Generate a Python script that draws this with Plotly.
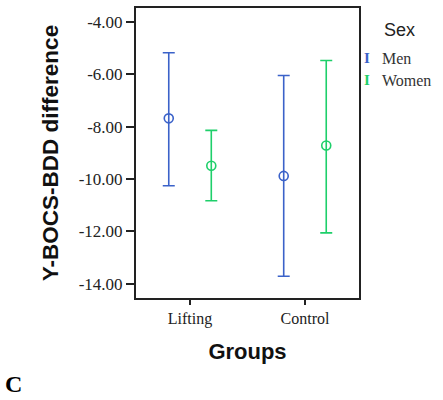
import plotly.graph_objects as go

# ---- data ----
groups = ["Lifting", "Control"]
sexes = ["Men", "Women"]
men_mean = [-7.68, -9.88]
men_upper = [-5.17, -6.04]
men_lower = [-10.26, -13.72]
women_mean = [-9.49, -8.72]
women_upper = [-8.14, -5.47]
women_lower = [-10.83, -12.06]
y_ticks = [-4, -6, -8, -10, -12, -14]
y_tick_labels = ["-4.00", "-6.00", "-8.00", "-10.00", "-12.00", "-14.00"]

# ---- style ----
BLUE = "#3b62c9"
GREEN = "#1ecf6a"
OFFSET = 0.185
W, H = 443, 400
ML, MR, MT, MB = 136, 84, 8, 102
PW, PH = W - ML - MR, H - MT - MB

def px(x):
    return (x - ML) / PW

def py(y):
    return (H - MB - y) / PH

series = [
    ("Men", men_mean, men_upper, men_lower, BLUE, -OFFSET),
    ("Women", women_mean, women_upper, women_lower, GREEN, OFFSET),
]

fig = go.Figure()
for name, mean, up, lo, col, off in series:
    xs = [i + off for i in range(len(groups))]
    fig.add_trace(go.Scatter(
        x=xs, y=mean, mode="markers", name=name, showlegend=False,
        marker=dict(symbol="circle-open", size=9, color=col, line=dict(width=1.6, color=col)),
        error_y=dict(type="data", symmetric=False,
                     array=[u - m for u, m in zip(up, mean)],
                     arrayminus=[m - l for m, l in zip(mean, lo)],
                     color=col, thickness=1.6, width=6),
    ))

serif = "Liberation Serif"
sans = "Liberation Sans"

fig.update_layout(
    width=W, height=H,
    margin=dict(l=ML, r=MR, t=MT, b=MB, autoexpand=False),
    paper_bgcolor="white", plot_bgcolor="white",
    showlegend=False,
    xaxis=dict(
        range=[-0.47, 1.47], tickvals=list(range(len(groups))), ticktext=groups,
        ticks="outside", ticklen=5, tickwidth=1.5, tickcolor="#222",
        showline=True, linecolor="#222", linewidth=2, mirror=True,
        showgrid=False, zeroline=False,
        tickfont=dict(family=serif, size=16, color="#222"),
        title=dict(text="<b>Groups</b>", font=dict(family=sans, size=22, color="#111"), standoff=16),
    ),
    yaxis=dict(
        range=[-14.55, -3.46], tickvals=y_ticks, ticktext=y_tick_labels,
        ticks="outside", ticklen=8, tickwidth=1.5, tickcolor="#222",
        showline=True, linecolor="#222", linewidth=2, mirror=True,
        showgrid=False, zeroline=False,
        tickfont=dict(family=serif, size=17, color="#222"),
        title=dict(text="<b>Y-BOCS-BDD difference</b>", font=dict(family=sans, size=22.5, color="#111"), standoff=14),
    ),
)

annots = [
    dict(text="Sex", x=px(382), y=py(30), xanchor="left", yanchor="middle",
         font=dict(family=sans, size=18, color="#222")),
    dict(text="<b>I</b>", x=px(367), y=py(58), xanchor="center", yanchor="middle",
         font=dict(family=serif, size=15, color=BLUE)),
    dict(text=sexes[0], x=px(380), y=py(58), xanchor="left", yanchor="middle",
         font=dict(family=serif, size=16, color="#333")),
    dict(text="<b>I</b>", x=px(367), y=py(80), xanchor="center", yanchor="middle",
         font=dict(family=serif, size=15, color=GREEN)),
    dict(text=sexes[1], x=px(380), y=py(80), xanchor="left", yanchor="middle",
         font=dict(family=serif, size=16, color="#333")),
    dict(text="<b>C</b>", x=px(3), y=py(384), xanchor="left", yanchor="middle",
         font=dict(family=serif, size=24, color="#000")),
]
for a in annots:
    fig.add_annotation(xref="paper", yref="paper", showarrow=False, **a)

fig.write_html("out.html", config={"displayModeBar": False},
               post_script="document.body.style.margin='0';document.body.style.overflow='hidden';")
